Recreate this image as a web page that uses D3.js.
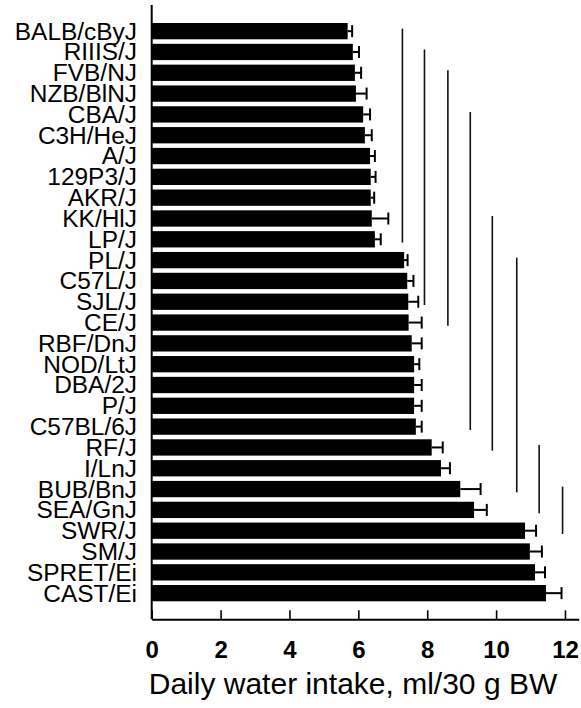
<!DOCTYPE html>
<html>
<head>
<meta charset="utf-8">
<script src="https://cdn.jsdelivr.net/npm/d3@7/dist/d3.min.js"></script>
<style>
  body { margin: 0; background: #fff; }
  svg text { font-family: "Liberation Sans", Arial, sans-serif; fill: #000; }
</style>
</head>
<body>
<svg width="581" height="708"></svg>
<script>
// strains, top to bottom
var strains = ["BALB/cByJ", "RIIIS/J", "FVB/NJ", "NZB/BlNJ", "CBA/J", "C3H/HeJ", "A/J",
    "129P3/J", "AKR/J", "KK/HlJ", "LP/J", "PL/J", "C57L/J", "SJL/J", "CE/J", "RBF/DnJ",
    "NOD/LtJ", "DBA/2J", "P/J", "C57BL/6J", "RF/J", "I/LnJ", "BUB/BnJ", "SEA/GnJ",
    "SWR/J", "SM/J", "SPRET/Ei", "CAST/Ei"];

// daily water intake, ml/30 g BW (mean and SEM)
var intake = [5.69, 5.84, 5.90, 5.93, 6.14, 6.19, 6.34, 6.36, 6.36, 6.39, 6.48, 7.33, 7.42,
    7.45, 7.46, 7.55, 7.62, 7.62, 7.62, 7.67, 8.13, 8.40, 8.96, 9.36, 10.84, 10.98, 11.13, 11.45];
var sem = [0.13, 0.18, 0.18, 0.31, 0.20, 0.20, 0.14, 0.14, 0.10, 0.48, 0.17, 0.10, 0.18,
    0.29, 0.38, 0.29, 0.15, 0.22, 0.22, 0.17, 0.32, 0.26, 0.59, 0.37, 0.32, 0.35, 0.29, 0.45];

// groups that do not differ significantly: first strain, last strain, where the line sits
var groupFrom = ["BALB/cByJ", "RIIIS/J", "FVB/NJ", "CBA/J", "KK/HlJ", "PL/J", "RF/J", "BUB/BnJ"];
var groupTo   = ["LP/J", "SJL/J", "CE/J", "C57BL/6J", "RF/J", "BUB/BnJ", "SEA/GnJ", "SWR/J"];
var groupAt   = [7.28, 7.92, 8.60, 9.25, 9.89, 10.60, 11.25, 11.93];

var xTicks = [0, 2, 4, 6, 8, 10, 12];

var svg = d3.select("svg");

var x = d3.scaleLinear().domain([0, 12.4]).range([151.7, 151.7 + 12.4 * 34.44]);
var y = d3.scaleBand().domain(strains).range([5, 619.3])
    .paddingInner(0.217).paddingOuter(0.865);

var data = strains.map(function (s, i) {
    return { strain: s, value: intake[i], err: sem[i] };
});

// bars
svg.selectAll(".bar")
    .data(data)
    .enter()
    .append("rect")
    .attr("class", "bar")
    .attr("x", x(0))
    .attr("y", function (d) { return y(d.strain); })
    .attr("width", function (d) { return x(d.value) - x(0); })
    .attr("height", y.bandwidth())
    .attr("fill", "#000");

// error bars
var eb = svg.selectAll(".err")
    .data(data)
    .enter()
    .append("g")
    .attr("class", "err")
    .attr("stroke", "#000")
    .attr("stroke-width", 2);

eb.append("line")
    .attr("x1", function (d) { return x(d.value); })
    .attr("x2", function (d) { return x(d.value + d.err); })
    .attr("y1", function (d) { return y(d.strain) + y.bandwidth() / 2; })
    .attr("y2", function (d) { return y(d.strain) + y.bandwidth() / 2; });

eb.append("line")
    .attr("x1", function (d) { return x(d.value + d.err); })
    .attr("x2", function (d) { return x(d.value + d.err); })
    .attr("y1", function (d) { return y(d.strain) + y.bandwidth() / 2 - 6; })
    .attr("y2", function (d) { return y(d.strain) + y.bandwidth() / 2 + 6; });

// significance lines
svg.selectAll(".grp")
    .data(groupAt)
    .enter()
    .append("line")
    .attr("class", "grp")
    .attr("x1", function (d) { return x(d); })
    .attr("x2", function (d) { return x(d); })
    .attr("y1", function (d, i) { return y(groupFrom[i]) + y.bandwidth() * 0.35; })
    .attr("y2", function (d, i) { return y(groupTo[i]) + y.bandwidth() * 0.7; })
    .attr("stroke", "#111")
    .attr("stroke-width", 1.6);

// y axis line, no ticks
svg.append("line")
    .attr("x1", x(0)).attr("x2", x(0))
    .attr("y1", 5).attr("y2", 619.3)
    .attr("stroke", "#000")
    .attr("stroke-width", 2);

// strain labels
var lab = svg.append("g")
    .attr("transform", "translate(137,0) scale(1.04,1)");
lab.selectAll("text")
    .data(strains)
    .enter()
    .append("text")
    .attr("x", 0)
    .attr("y", function (d) { return y(d) + y.bandwidth() / 2; })
    .attr("dy", "0.36em")
    .attr("text-anchor", "end")
    .attr("font-size", "23.5px")
    .text(function (d) { return d; });

// x axis, ticks pointing inward
var xAxis = svg.append("g")
    .attr("transform", "translate(0,619.3)")
    .call(d3.axisBottom(x).tickValues(xTicks).tickSizeInner(-9).tickSizeOuter(0).tickPadding(0));

xAxis.select(".domain").attr("stroke-width", 2);
xAxis.selectAll(".tick line").attr("stroke-width", 1.6);
xAxis.selectAll(".tick text")
    .attr("y", 39)
    .attr("dy", 0)
    .attr("font-size", "24px")
    .attr("font-weight", "bold")
    .attr("font-family", "Liberation Sans, Arial, sans-serif")
    .attr("fill", "#000");

svg.append("text")
    .attr("x", 353)
    .attr("y", 694)
    .attr("text-anchor", "middle")
    .attr("font-size", "30px")
    .text("Daily water intake, ml/30 g BW");
</script>
</body>
</html>
